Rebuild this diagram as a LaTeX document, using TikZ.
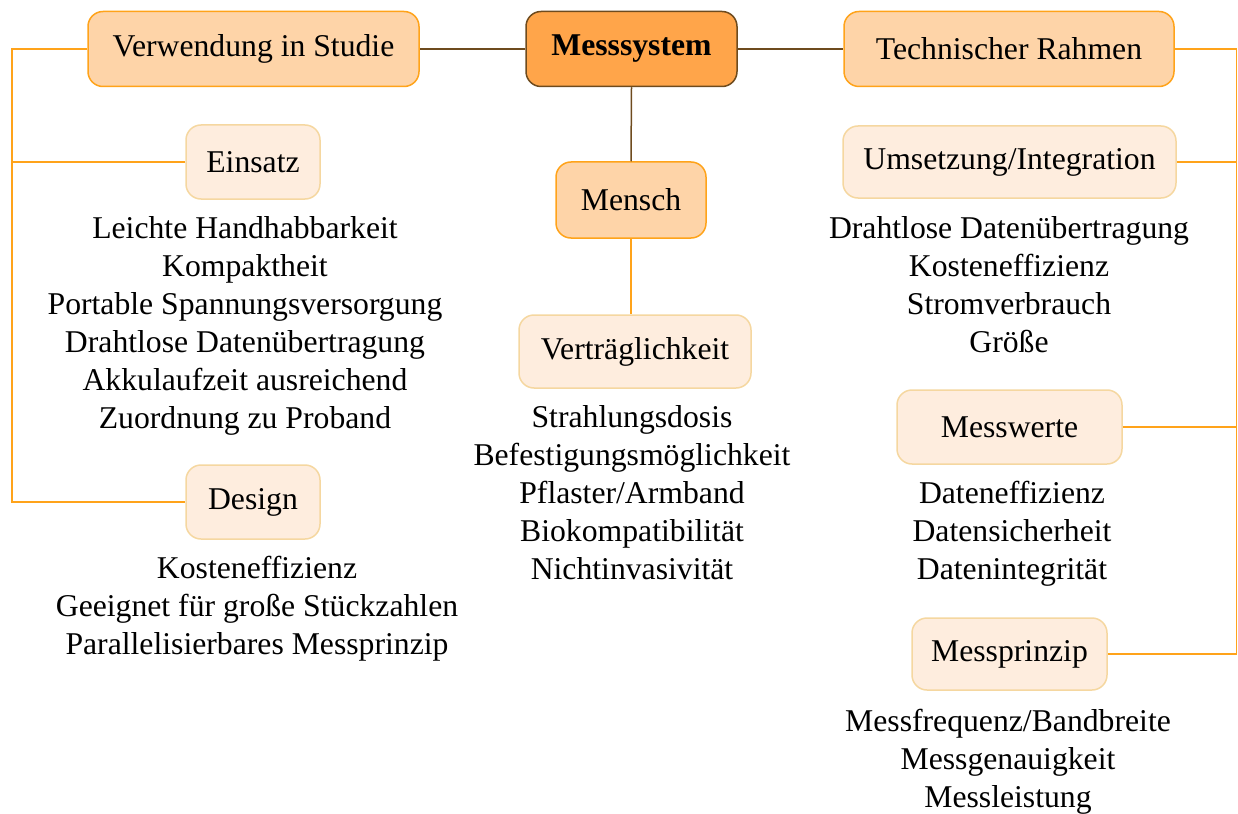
\documentclass[tikz,border=0pt]{standalone}
\usepackage{fontspec}
\setmainfont{Liberation Serif}
\definecolor{rootfill}{HTML}{FFA54A}
\definecolor{rootline}{HTML}{6E4B1E}
\definecolor{peach}{HTML}{FED4A8}
\definecolor{orangeline}{HTML}{FFA31A}
\definecolor{cream}{HTML}{FEEDDE}
\definecolor{creamline}{HTML}{F5D7A0}
\begin{document}
\begin{tikzpicture}[x=1pt,y=-1pt,
  txt/.style={font=\fontsize{31.7}{38}\selectfont},
  box/.style={txt, inner sep=0pt, line width=1.5pt, rounded corners=15pt, minimum height=74pt},
  rootbox/.style={box, draw=rootline, fill=rootfill, minimum height=75pt,
    font=\fontsize{31.7}{38}\selectfont\bfseries},
  mainbox/.style={box, draw=orangeline, fill=peach},
  subbox/.style={box, draw=creamline, fill=cream},
  itemlist/.style={txt, align=center, inner sep=0pt},
  trunk/.style={draw=rootline, line width=1.5pt},
  branch/.style={draw=orangeline, line width=1.5pt}]
\useasboundingbox (0,0) rectangle (1238,813);

% central node and first level
\node[rootbox, minimum width=211pt] (root) at (631.5,49) {Messsystem};
\node[mainbox, minimum width=331pt, minimum height=75pt] (verw) at (253.5,49) {Verwendung in Studie};
\node[mainbox, minimum width=330pt, minimum height=75pt] (tech) at (1009,49) {Technischer Rahmen};
\node[mainbox, minimum width=150pt, minimum height=76pt] (mensch) at (631,200) {Mensch};

% left branch
\node[subbox, minimum width=134pt] (einsatz) at (253,162) {Einsatz};
\node[itemlist] (einsatzlist) at (245,326) {Leichte Handhabbarkeit\\Kompaktheit\\Portable Spannungsversorgung\\Drahtlose Datenübertragung\\Akkulaufzeit ausreichend\\Zuordnung zu Proband};
\node[subbox, minimum width=134pt] (design) at (253,502) {Design};
\node[itemlist] (designlist) at (257,609) {Kosteneffizienz\\Geeignet für große Stückzahlen\\Parallelisierbares Messprinzip};

% middle branch
\node[subbox, minimum width=232pt, minimum height=73pt] (vert) at (635,351.5) {Verträglichkeit};
\node[itemlist] (vertlist) at (632,493) {Strahlungsdosis\\Befestigungsmöglichkeit\\Pflaster/Armband\\Biokompatibilität\\Nichtinvasivität};

% right branch
\node[subbox, minimum width=333pt, minimum height=72pt] (umsetz) at (1009.5,162) {Umsetzung/Integration};
\node[itemlist] (umsetzlist) at (1009,285) {Drahtlose Datenübertragung\\Kosteneffizienz\\Stromverbrauch\\Größe};
\node[subbox, minimum width=225pt] (werte) at (1009.5,427) {Messwerte};
\node[itemlist] (wertelist) at (1012,534) {Dateneffizienz\\Datensicherheit\\Datenintegrität};
\node[subbox, minimum width=195pt, minimum height=72pt] (prinzip) at (1009.5,654) {Messprinzip};
\node[itemlist] (prinziplist) at (1008,762) {Messfrequenz/Bandbreite\\Messgenauigkeit\\Messleistung};

% connectors from the centre
\draw[trunk] (root.west) -- (verw.east);
\draw[trunk] (root.east) -- (tech.west);
\draw[trunk] (root.south) -- (mensch.north);
\draw[branch] (mensch.south) -- (mensch.south |- vert.north);

% left rail
\coordinate (lt) at (12,49);
\coordinate (lb) at (12,502);
\draw[branch] (verw.west) -- (lt) -- (lb) -- (design.west);
\draw[branch] (einsatz.west) -- (einsatz.west -| lt);

% right rail
\coordinate (rt) at (1236.5,49);
\coordinate (rb) at (1236.5,654);
\draw[branch] (tech.east) -- (rt) -- (rb) -- (prinzip.east);
\draw[branch] (umsetz.east) -- (umsetz.east -| rt);
\draw[branch] (werte.east) -- (werte.east -| rt);
\end{tikzpicture}
\end{document}
